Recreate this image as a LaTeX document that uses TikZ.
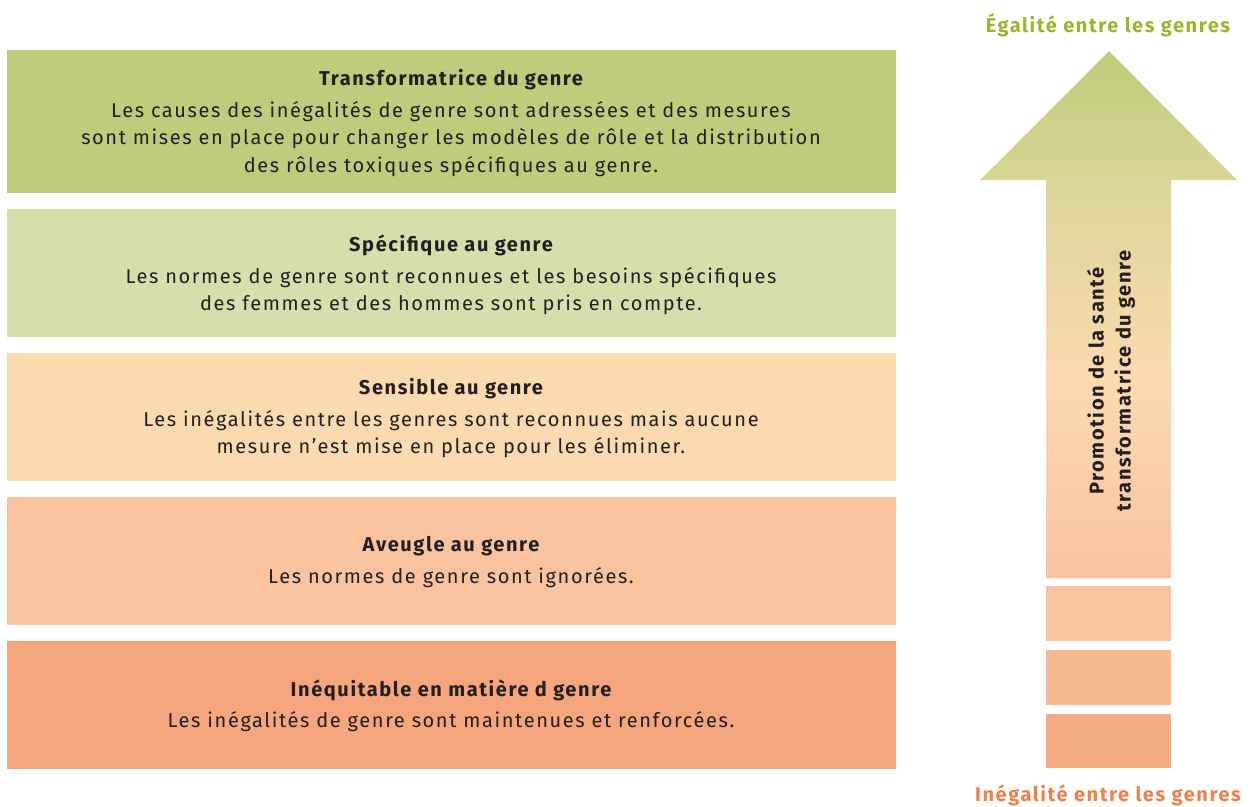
\documentclass[tikz,border=0pt]{standalone}
\usepackage{fontspec}
\setmainfont[LetterSpace=8]{Fira Sans}
\definecolor{gA}{HTML}{C0CB7B}
\definecolor{gB}{HTML}{D6DFAB}
\definecolor{pA}{HTML}{FCDAB0}
\definecolor{pB}{HTML}{F9C3A0}
\definecolor{pC}{HTML}{F5A67C}
\definecolor{txt}{HTML}{231F20}
\definecolor{topc}{HTML}{9DB52B}
\definecolor{botc}{HTML}{F07F48}
\definecolor{arY}{HTML}{DED69A}
\definecolor{blA}{HTML}{F9C39D}
\definecolor{blB}{HTML}{F8B890}
\definecolor{blC}{HTML}{F6AC82}
\pgfdeclareverticalshading{arrowshade}{100bp}{color(0bp)=(pB); color(25bp)=(pB); color(43.8bp)=(pA); color(60.9bp)=(arY); color(75bp)=(gA); color(100bp)=(gA)}
\begin{document}
\begin{tikzpicture}[x=1bp,y=-1bp,
  ttl/.style={font=\fontsize{20bp}{24bp}\selectfont\bfseries,text=txt,inner sep=0pt},
  bdy/.style={font=\fontsize{20bp}{27.5bp}\selectfont,text=txt,align=center,inner sep=0pt},
  lbl/.style={font=\fontsize{20bp}{24bp}\selectfont\bfseries,inner sep=0pt}]
\useasboundingbox (0,0) rectangle (1251,807);
% bands
\fill[gA] (7,50) rectangle (896,193);
\fill[gB] (7,209) rectangle (896,337);
\fill[pA] (7,353) rectangle (896,481);
\fill[pB] (7,497) rectangle (896,625);
\fill[pC] (7,641) rectangle (896,769);
% texts
\node[ttl] (t1) at (451,80) {Transformatrice du genre};
\node[bdy] (b1) at (451,139) {Les causes des inégalités de genre sont adressées et des mesures\\sont mises en place pour changer les modèles de rôle et la distribution\\des rôles toxiques spécifiques au genre.};
\node[ttl] (t2) at (451,245) {Spécifique au genre};
\node[bdy] (b2) at (451,291) {Les normes de genre sont reconnues et les besoins spécifiques\\des femmes et des hommes sont pris en compte.};
\node[ttl] (t3) at (451,389) {Sensible au genre};
\node[bdy] (b3) at (451,434) {Les inégalités entre les genres sont reconnues mais aucune\\mesure n’est mise en place pour les éliminer.};
\node[ttl] (t4) at (451,546) {Aveugle au genre};
\node[bdy] (b4) at (451,578) {Les normes de genre sont ignorées.};
\node[ttl] (t5) at (451,690) {Inéquitable en matière d genre};
\node[bdy] (b5) at (451,722) {Les inégalités de genre sont maintenues et renforcées.};
% arrow
\shade[shading=arrowshade] (1109,51) -- (1237,180) -- (1171,180) -- (1171,578) -- (1046,578) -- (1046,180) -- (980,180) -- cycle;
\fill[blA] (1046,586) rectangle (1171,641);
\fill[blB] (1046,650) rectangle (1171,705);
\fill[blC] (1046,714) rectangle (1171,768);
\node[bdy,font=\fontsize{20bp}{27bp}\selectfont\bfseries,rotate=90] (ar) at (1111,381) {Promotion de la santé\\transformatrice du genre};
\node[lbl,text=topc] (top) at (1108,25) {Égalité entre les genres};
\node[lbl,text=botc] (bot) at (1108,795) {Inégalité entre les genres};
\end{tikzpicture}
\end{document}
